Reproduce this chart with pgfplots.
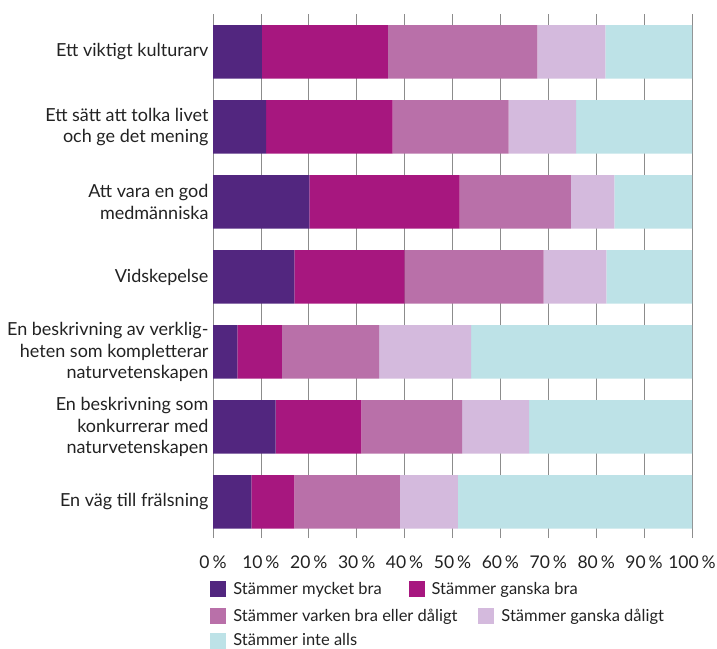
\documentclass[border=0pt]{standalone}
\usepackage{pgfplots}
\pgfplotsset{compat=1.18}
\usepackage{fontspec}
\setmainfont{Lato}
\definecolor{cA}{HTML}{52267F}
\definecolor{cB}{HTML}{A7177F}
\definecolor{cC}{HTML}{B970A9}
\definecolor{cD}{HTML}{D4BADD}
\definecolor{cE}{HTML}{BDE2E7}
\definecolor{txt}{HTML}{222222}
\begin{document}
\begin{tikzpicture}[font=\fontsize{18}{21.7}\selectfont]
% fixed page: 717 x 648 pt
\path[use as bounding box] (0pt,0pt) rectangle (717pt,648pt);

% === main chart ===
\begin{axis}[
  at={(213pt,110pt)}, anchor=south west,
  scale only axis, width=479pt, height=524pt,
  xbar stacked, bar width=0.713,
  xmin=0, xmax=100, ymin=-0.48, ymax=6.505,
  axis lines*=left, axis line style={draw=none},
  xmajorgrids, grid style={color=black!45, line width=0.7pt},
  major tick length=0pt,
  xtick={0,10,...,100},
  xticklabels={0\,\%,10\,\%,20\,\%,30\,\%,40\,\%,50\,\%,60\,\%,70\,\%,80\,\%,90\,\%,100\,\%},
  xticklabel style={text=txt, yshift=-14pt, font=\fontsize{17.5}{20}\selectfont},
  ytick={0,...,6},
  yticklabels={
    {En väg till frälsning},
    {En beskrivning som\\konkurrerar med\\naturvetenskapen},
    {En beskrivning av verklig-\\heten som kompletterar\\naturvetenskapen},
    {Vidskepelse},
    {Att vara en god\\medmänniska},
    {Ett sätt att tolka livet\\och ge det mening},
    {Ett viktigt kulturarv}},
  yticklabel style={align=right, text=txt, xshift=-1pt},
  legend image code/.code={\fill[#1] (0pt,-8pt) rectangle (16pt,8pt);},
  legend columns=2, legend cell align=left,
  legend style={at={(-0.006,-0.0973)}, anchor=west, draw=none, fill=none,
    inner sep=0pt, font=\fontsize{16.5}{19}\selectfont,
    nodes={inner sep=0pt, text=txt},
    /tikz/every odd column/.append style={column sep=7pt},
    /tikz/every even column/.append style={column sep=27pt}},
]
% Stämmer mycket bra
\addplot[fill=cA, draw=none] coordinates {(10.2,6) (11.1,5) (20.1,4) (17.0,3) (5.1,2) (13.1,1) (8.0,0)};
% Stämmer ganska bra
\addplot[fill=cB, draw=none] coordinates {(26.3,6) (26.4,5) (31.4,4) (23.0,3) (9.3,2) (17.9,1) (9.0,0)};
% Stämmer varken bra eller dåligt
\addplot[fill=cC, draw=none] coordinates {(31.2,6) (24.2,5) (23.2,4) (29.0,3) (20.3,2) (21.0,1) (22.0,0)};
% Stämmer ganska dåligt
\addplot[fill=cD, draw=none] coordinates {(14.2,6) (14.1,5) (9.1,4) (13.1,3) (19.2,2) (14.0,1) (12.1,0)};
% Stämmer inte alls
\addplot[fill=cE, draw=none] coordinates {(18.1,6) (24.2,5) (16.2,4) (17.9,3) (46.1,2) (34.0,1) (48.9,0)};
\legend{Stämmer mycket bra, Stämmer ganska bra}
\end{axis}

% === second and third legend rows (own column layout) ===
\begin{axis}[
  at={(213pt,110pt)}, anchor=south west,
  scale only axis, width=479pt, height=524pt,
  xmin=0, xmax=100, ymin=0, ymax=1,
  hide axis,
  legend image code/.code={\fill[#1] (0pt,-8pt) rectangle (16pt,8pt);},
  legend columns=2, legend cell align=left,
  legend style={at={(-0.006,-0.172)}, anchor=west, draw=none, fill=none,
    inner sep=0pt, font=\fontsize{16.5}{19}\selectfont,
    nodes={inner sep=0pt, text=txt},
    /tikz/every odd column/.append style={column sep=7pt},
    /tikz/every even column/.append style={column sep=21pt},
    row sep=9pt},
]
\addlegendimage{fill=cC, draw=none}
\addlegendentry{Stämmer varken bra eller dåligt}
\addlegendimage{fill=cD, draw=none}
\addlegendentry{Stämmer ganska dåligt}
\addlegendimage{fill=cE, draw=none}
\addlegendentry{Stämmer inte alls}
\end{axis}
\end{tikzpicture}
\end{document}
